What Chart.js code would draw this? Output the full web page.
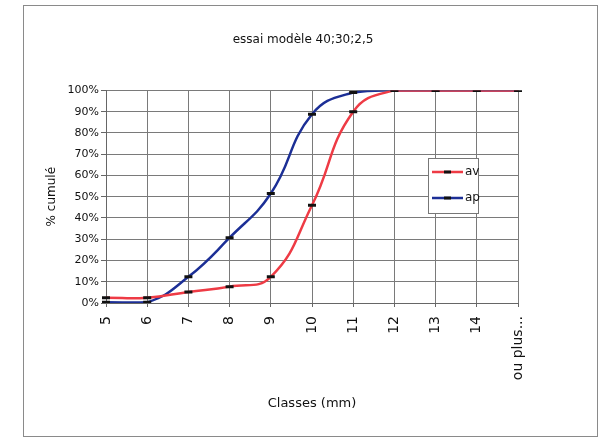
<!DOCTYPE html>
<html>
<head>
<meta charset="utf-8">
<script src="https://cdn.jsdelivr.net/npm/chart.js@4"></script>
<style>
html,body{margin:0;padding:0;background:#fff;}
#wrap{position:relative;width:604px;height:440px;}
#frame{position:absolute;left:23px;top:5px;width:575px;height:432px;border:1px solid #8a8a8a;box-sizing:border-box;}
canvas{position:absolute;left:0;top:0;}
</style>
</head>
<body>
<div id="wrap">
<div id="frame"></div>
<canvas id="c" width="604" height="440"></canvas>
</div>
<script>
const categories = ['5','6','7','8','9','10','11','12','13','14','ou plus...'];
const avValues = [2.5, 2.5, 5.2, 7.7, 12.3, 46, 90, 100, 100, 100, 100];
const apValues = [0.3, 0.3, 12.3, 30.7, 51.5, 88.8, 99, 100, 100, 100, 100];
const seriesNames = ['av', 'ap'];
const yTicks = [0,10,20,30,40,50,60,70,80,90,100];

const FONT = "'DejaVu Sans', Verdana, sans-serif";
const TXT = '#111';

const legendPlugin = {
  id: 'boxLegend',
  afterDraw(chart) {
    const ctx = chart.ctx;
    const x = 428, y = 158, w = 50, h = 55;
    ctx.save();
    ctx.fillStyle = '#fff';
    ctx.fillRect(x, y, w, h);
    ctx.strokeStyle = '#777';
    ctx.lineWidth = 1;
    ctx.strokeRect(x + 0.5, y + 0.5, w, h);
    chart.data.datasets.forEach((ds, i) => {
      const ly = y + 14 + i * 26;
      ctx.strokeStyle = ds.borderColor;
      ctx.lineWidth = 2.5;
      ctx.beginPath();
      ctx.moveTo(x + 4, ly);
      ctx.lineTo(x + 35, ly);
      ctx.stroke();
      ctx.strokeStyle = '#111';
      ctx.lineWidth = 3;
      ctx.beginPath();
      ctx.moveTo(x + 16, ly);
      ctx.lineTo(x + 23, ly);
      ctx.stroke();
      ctx.fillStyle = TXT;
      ctx.font = '12px ' + FONT;
      ctx.textBaseline = 'middle';
      ctx.fillText(ds.label, x + 37, ly);
    });
    ctx.restore();
  }
};

new Chart(document.getElementById('c'), {
  type: 'line',
  data: {
    labels: categories,
    datasets: [
      { label: seriesNames[0], data: avValues, borderColor: '#ee3b45', backgroundColor: '#ee3b45',
        borderWidth: 2.5, tension: 0.45, pointStyle: 'line', pointRadius: 4, pointBorderWidth: 3,
        pointBorderColor: '#111', fill: false, yAxisID: 'y' },
      { label: seriesNames[1], data: apValues, borderColor: '#1c2f96', backgroundColor: '#1c2f96',
        borderWidth: 2.5, tension: 0.45, pointStyle: 'line', pointRadius: 4, pointBorderWidth: 3,
        pointBorderColor: '#111', fill: false, yAxisID: 'y' }
    ]
  },
  options: {
    responsive: false,
    animation: false,
    devicePixelRatio: 1,
    layout: { padding: { left: 30, right: 28, top: 0, bottom: 25 } },
    plugins: {
      legend: { display: false },
      tooltip: { enabled: false },
      title: {
        display: true,
        text: 'essai modèle 40;30;2,5',
        color: TXT,
        font: { family: FONT, size: 12, weight: 'normal' },
        padding: { top: 33, bottom: 43 }
      }
    },
    scales: {
      x: {
        offset: false,
        grid: { color: '#7a7a7a', lineWidth: 1, tickLength: 4, drawTicks: true, tickColor: '#666' },
        border: { color: '#666', width: 1 },
        ticks: { color: TXT, font: { family: FONT, size: 14 }, minRotation: 90, maxRotation: 90, padding: 9, autoSkip: false },
        title: { display: true, text: 'Classes (mm)', color: TXT, font: { family: FONT, size: 13 }, padding: { top: 10, bottom: 4 } },
        afterFit(s) { s.height = 112; }
      },
      y: {
        position: 'left',
        min: 0, max: 100,
        afterBuildTicks(s) { s.ticks = yTicks.map(v => ({ value: v })); },
        grid: { color: '#7a7a7a', lineWidth: 1, tickLength: 5, tickColor: '#666' },
        border: { color: '#666', width: 1 },
        ticks: { color: TXT, font: { family: FONT, size: 11 }, padding: 2, callback: v => v + '%' },
        title: { display: true, text: '% cumulé', color: TXT, font: { family: FONT, size: 12 }, padding: { top: 15, bottom: 0 } },
        afterFit(s) { s.width = 76; }
      },
      yRight: {
        position: 'right',
        min: 0, max: 100,
        grid: { display: false, drawOnChartArea: false },
        border: { display: false },
        ticks: { display: false },
        afterFit(s) { s.width = 58; }
      }
    }
  },
  plugins: [legendPlugin]
});
</script>
</body>
</html>
